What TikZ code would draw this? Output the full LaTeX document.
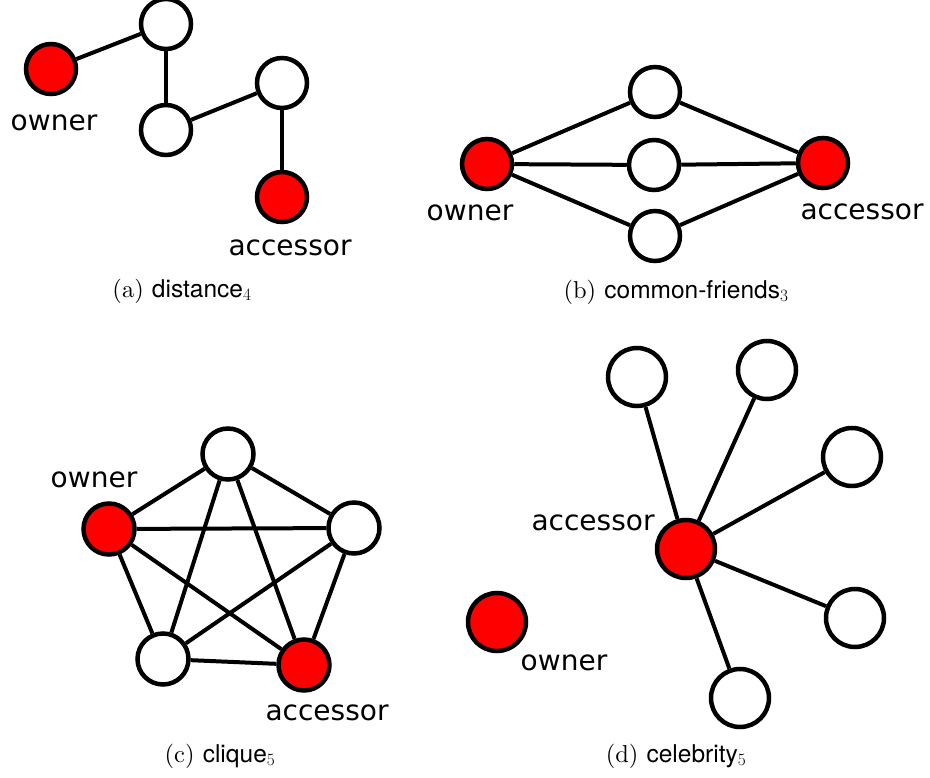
\documentclass[tikz,border=0pt]{standalone}
\usepackage{fontspec}
\newfontfamily\labelfont{DejaVu Sans}
\newfontfamily\capsans{TeX Gyre Heros}
\newfontfamily\capserif[Extension=.otf]{lmroman10-regular}
\tikzset{
  vert/.style={circle, draw=black, line width=4.5pt, minimum size=50pt, inner sep=0pt, fill=white},
  hot/.style={vert, fill=red},
  wide/.style={minimum size=58pt},
  link/.style={line width=4pt, black},
  lbl/.style={font=\labelfont\fontsize{28}{32}\selectfont, inner sep=0pt},
  subcap/.style={font=\capserif\fontsize{24.5}{28}\selectfont, inner sep=0pt}
}
\begin{document}
\begin{tikzpicture}[x=1pt, y=-1pt]
\useasboundingbox (0,0) rectangle (930,778);

% (a) a path of length four
\node[hot]  (a0) at (51,69)  {};
\node[vert] (a1) at (166,24) {};
\node[vert] (a2) at (166,130) {};
\node[vert] (a3) at (282,83) {};
\node[hot]  (a4) at (282,197) {};
\draw[link] (a0) -- (a1);
\draw[link] (a1) -- (a2);
\draw[link] (a2) -- (a3);
\draw[link] (a3) -- (a4);
\node[lbl] (aown) at (54,123) {owner};
\node[lbl] (aacc) at (290,248) {accessor};
\node[subcap] (acap) at (182,291) {(a) {\capsans distance}$_4$};

% (b) three common friends
\node[hot]  (b0) at (487,164) {};
\node[vert] (b1) at (655,92) {};
\node[vert] (b2) at (654,165) {};
\node[vert] (b3) at (655,236) {};
\node[hot]  (b4) at (823,163) {};
\foreach \m in {b1,b2,b3} {
  \draw[link] (b0) -- (\m);
  \draw[link] (\m) -- (b4);
}
\node[lbl] (bown) at (470,213) {owner};
\node[lbl] (bacc) at (862,212) {accessor};
\node[subcap] (bcap) at (676,292) {(b) {\capsans common-friends}$_3$};

% (c) a five-clique
\node[vert, minimum size=51pt] (c1) at (228,454) {};
\node[hot,  minimum size=51pt] (c0) at (109,529) {};
\node[vert, minimum size=51pt] (c2) at (354,528) {};
\node[vert, minimum size=51pt] (c3) at (163,659) {};
\node[hot,  minimum size=51pt] (c4) at (304,665) {};
\foreach \p/\q in {c0/c1,c0/c2,c0/c3,c0/c4,c1/c2,c1/c3,c1/c4,c2/c3,c2/c4,c3/c4}
  \draw[link] (\p) -- (\q);
\node[lbl] (cown) at (94,480) {owner};
\node[lbl] (cacc) at (327,713) {accessor};
\node[subcap] (ccap) at (220,756) {(c) {\capsans clique}$_5$};

% (d) a celebrity with five friends
\node[hot,  wide] (d0) at (686,549) {};
\node[vert, wide] (d1) at (637,377) {};
\node[vert, wide] (d2) at (767,370) {};
\node[vert, wide] (d3) at (852,457) {};
\node[vert, wide] (d4) at (855,618) {};
\node[vert, wide] (d5) at (740,698) {};
\node[hot,  wide] (dow) at (497,622) {};
\foreach \m in {d1,d2,d3,d4,d5}
  \draw[link] (d0) -- (\m);
\node[lbl] (dacc) at (593,523) {accessor};
\node[lbl] (down) at (564,663) {owner};
\node[subcap] (dcap) at (676,756) {(d) {\capsans celebrity}$_5$};
\end{tikzpicture}
\end{document}
